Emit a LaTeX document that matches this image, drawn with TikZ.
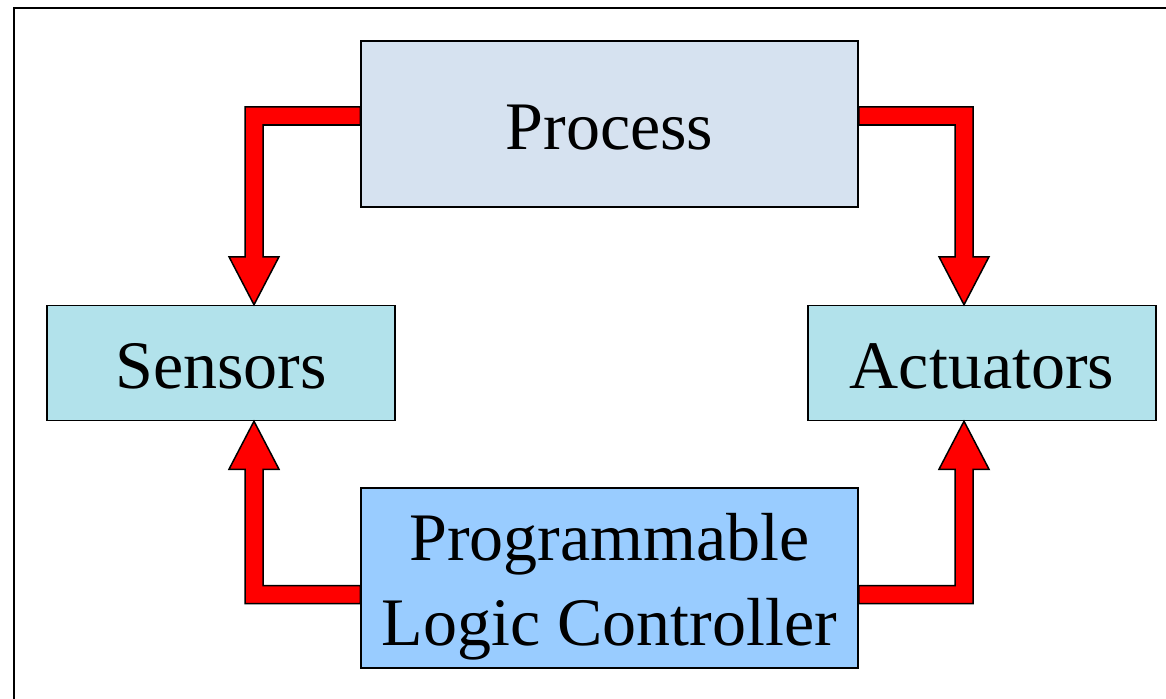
\documentclass[tikz,border=0pt]{standalone}
\usepackage{fontspec}
\setmainfont{Liberation Serif}
\usetikzlibrary{calc}
\definecolor{procfill}{RGB}{214,226,240}
\definecolor{icefill}{RGB}{178,226,235}
\definecolor{plcfill}{RGB}{153,204,255}
\tikzset{
  box/.style={draw,line width=1.5pt,inner sep=0pt,align=center,
    font=\fontsize{68}{85}\selectfont},
  flow/.style={draw,fill=red,line width=1.5pt,line join=miter},
}
% block arrow: start, tip, horizontal sign, vertical sign
\newcommand\flowarrow[4]{%
  \path[flow] let \p1=(#1), \p2=(#2) in
    (\x1,{\y1-(#4)*9pt}) -- ({\x2+(#3)*9pt},{\y1-(#4)*9pt})
    -- ({\x2+(#3)*9pt},{\y2-(#4)*48pt}) -- ({\x2+(#3)*25pt},{\y2-(#4)*48pt})
    -- (\x2,\y2)
    -- ({\x2-(#3)*25pt},{\y2-(#4)*48pt}) -- ({\x2-(#3)*9pt},{\y2-(#4)*48pt})
    -- ({\x2-(#3)*9pt},{\y1+(#4)*9pt}) -- (\x1,{\y1+(#4)*9pt}) -- cycle;}

\begin{document}
\begin{tikzpicture}[x=1pt,y=-1pt]
  \useasboundingbox (0,0) rectangle (1166,698);
  \draw[line width=1.5pt] (14,8) rectangle (1190,720);

  \node[box,fill=procfill,minimum width=497pt,minimum height=166pt] (proc) at (609.5,124) {\rule{0pt}{52pt}Process};
  \node[box,fill=icefill,minimum width=348pt,minimum height=115pt]  (sens) at (221,363)   {\rule{0pt}{52pt}Sensors};
  \node[box,fill=icefill,minimum width=348pt,minimum height=115pt]  (act)  at (982,363)   {\rule{0pt}{52pt}Actuators};
  \node[box,fill=plcfill,minimum width=497pt,minimum height=180pt]  (plc)  at (609.5,578) {\rule{0pt}{64pt}Programmable\\Logic Controller};

  \flowarrow{[yshift=8pt]proc.west}{[xshift=33pt]sens.north}{-1}{-1}
  \flowarrow{[yshift=8pt]proc.east}{[xshift=-18pt]act.north}{1}{-1}
  \flowarrow{[yshift=-16.5pt]plc.west}{[xshift=33pt]sens.south}{-1}{1}
  \flowarrow{[yshift=-16.5pt]plc.east}{[xshift=-18pt]act.south}{1}{1}
\end{tikzpicture}
\end{document}
